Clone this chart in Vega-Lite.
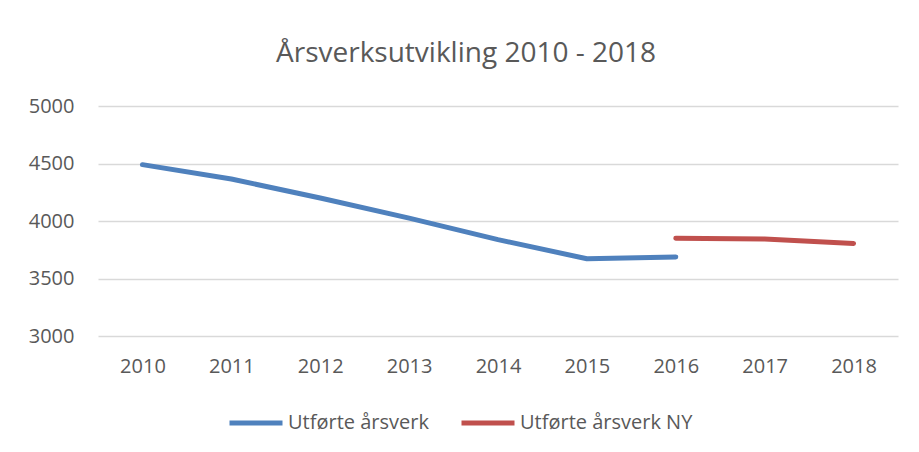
{
  "$schema": "https://vega.github.io/schema/vega-lite/v6.json",
  "autosize": {"type": "none"},
  "width": 800,
  "height": 230,
  "padding": {"left": 98, "top": 106, "right": 21, "bottom": 116},
  "background": "white",
  "title": {
    "text": "Årsverksutvikling 2010 - 2018",
    "font": "Open Sans",
    "fontSize": 28,
    "fontWeight": "normal",
    "color": "#595959",
    "anchor": "middle",
    "frame": "group",
    "baseline": "alphabetic",
    "offset": 6,
    "dx": -32
  },
  "data": {
    "values": [
      {"year": "2010", "value": 4490, "series": "Utførte årsverk"},
      {"year": "2011", "value": 4365, "series": "Utførte årsverk"},
      {"year": "2012", "value": 4200, "series": "Utførte årsverk"},
      {"year": "2013", "value": 4025, "series": "Utførte årsverk"},
      {"year": "2014", "value": 3838, "series": "Utførte årsverk"},
      {"year": "2015", "value": 3672, "series": "Utførte årsverk"},
      {"year": "2016", "value": 3688, "series": "Utførte årsverk"},
      {"year": "2016", "value": 3850, "series": "Utførte årsverk NY"},
      {"year": "2017", "value": 3843, "series": "Utførte årsverk NY"},
      {"year": "2018", "value": 3805, "series": "Utførte årsverk NY"}
    ]
  },
  "mark": {"type": "line", "strokeWidth": 5, "strokeCap": "round", "strokeJoin": "round"},
  "encoding": {
    "x": {
      "field": "year",
      "type": "ordinal",
      "scale": {"type": "point", "padding": 0.5, "domain": ["2010","2011","2012","2013","2014","2015","2016","2017","2018"]},
      "axis": {
        "title": null,
        "labelAngle": 0,
        "domain": false,
        "ticks": false,
        "grid": false,
        "labelFont": "Open Sans",
        "labelFontSize": 20,
        "labelColor": "#595959",
        "labelPadding": 20
      }
    },
    "y": {
      "field": "value",
      "type": "quantitative",
      "scale": {"domain": [3000, 5000], "nice": false, "zero": false},
      "axis": {
        "title": null,
        "values": [3000, 3500, 4000, 4500, 5000],
        "format": "d",
        "domain": false,
        "ticks": false,
        "grid": true,
        "gridColor": "#d9d9d9",
        "gridWidth": 1.5,
        "labelFont": "Open Sans",
        "labelFontSize": 20,
        "labelColor": "#595959",
        "labelPadding": 24
      }
    },
    "color": {
      "field": "series",
      "type": "nominal",
      "scale": {"domain": ["Utførte årsverk", "Utførte årsverk NY"], "range": ["#4f81bd", "#c0504d"]},
      "legend": {
        "title": null,
        "orient": "none",
        "direction": "horizontal",
        "legendX": 129,
        "legendY": 288,
        "symbolType": "stroke",
        "symbolSize": 2809,
        "symbolStrokeWidth": 5,
        "labelFont": "Open Sans",
        "labelFontSize": 20,
        "labelColor": "#595959",
        "labelOffset": 3,
        "labelLimit": 400,
        "columnPadding": 22
      }
    }
  },
  "config": {"view": {"stroke": null}}
}
